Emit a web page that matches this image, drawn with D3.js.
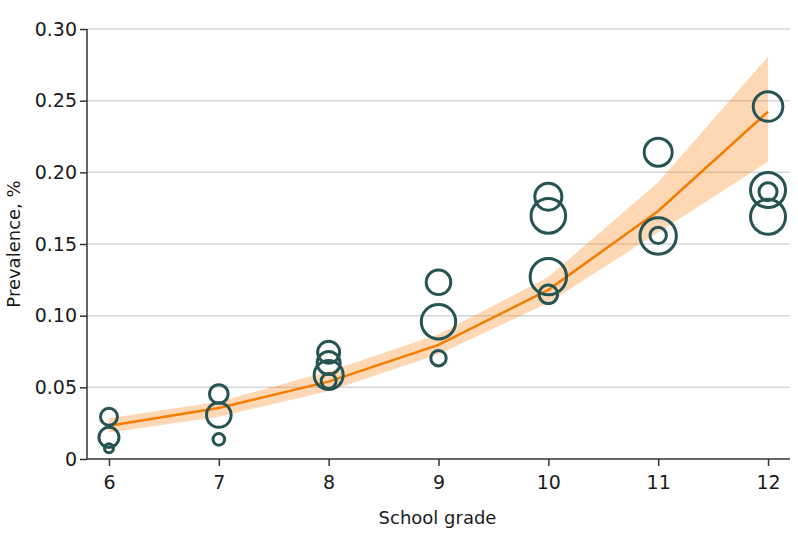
<!DOCTYPE html>
<html>
<head>
<meta charset="utf-8">
<script src="https://cdn.jsdelivr.net/npm/d3@7"></script>
<style>
  html, body { margin: 0; padding: 0; background: #fff; }
  svg { display: block; }
  text { font-family: "DejaVu Sans", sans-serif; fill: #1a1a1a; }
</style>
</head>
<body>
<svg id="chart" width="798" height="545"></svg>
<script>
// ---- Data ----
const grades = [6, 7, 8, 9, 10, 11, 12];
const fitPrevalence = [0.0232, 0.0356, 0.0540, 0.0796, 0.1180, 0.1730, 0.2424];
const fitLower      = [0.0185, 0.0295, 0.0475, 0.0730, 0.1090, 0.1580, 0.2075];
const fitUpper      = [0.0285, 0.0400, 0.0610, 0.0870, 0.1270, 0.1930, 0.2808];

const obsGrade      = [6, 6, 6, 7, 7, 7, 8, 8, 8, 8, 9, 9, 9, 10, 10, 10, 10, 11, 11, 11, 12, 12, 12, 12];
const obsPrevalence = [0.0295, 0.0151, 0.0075, 0.0454, 0.0307, 0.0137, 0.0745, 0.0670, 0.0586, 0.0544,
                       0.1233, 0.0958, 0.0703, 0.1830, 0.1696, 0.1272, 0.1149, 0.2140, 0.1556, 0.1560,
                       0.2459, 0.1877, 0.1865, 0.1690];
const obsSampleSize = [72, 100, 20, 86, 151, 34, 121, 132, 210, 56,
                       151, 296, 59, 182, 299, 331, 86, 196, 331, 67,
                       219, 306, 81, 306];

const yTicks = [0, 0.05, 0.10, 0.15, 0.20, 0.25, 0.30];
const xTicks = [6, 7, 8, 9, 10, 11, 12];
const xTitle = "School grade";
const yTitle = "Prevalence, %";

// ---- Layout ----
const svg = d3.select("#chart");
const mLeft = 87, mRight = 790, mTop = 29, mBottom = 459;

const x = d3.scaleLinear().domain([5.8, 12.2]).range([mLeft, mRight]);
const y = d3.scaleLinear().domain([0, 0.30]).range([mBottom, mTop]);
const r = d3.scaleSqrt().domain([0, 400]).range([0, 20]);

// gridlines
svg.append("g").selectAll("line")
  .data(yTicks.filter(d => d > 0))
  .join("line")
  .attr("x1", mLeft).attr("x2", mRight)
  .attr("y1", d => y(d)).attr("y2", d => y(d))
  .attr("stroke", "#d6d6d6").attr("stroke-width", 1.5);

// confidence band
const fit = grades.map((g, i) => ({ g, v: fitPrevalence[i], lo: fitLower[i], hi: fitUpper[i] }));
svg.append("path")
  .datum(fit)
  .attr("d", d3.area().x(d => x(d.g)).y0(d => y(d.lo)).y1(d => y(d.hi)))
  .attr("fill", "#fb8a1e").attr("fill-opacity", 0.33);

// fitted line
svg.append("path")
  .datum(fit)
  .attr("d", d3.line().x(d => x(d.g)).y(d => y(d.v)))
  .attr("fill", "none").attr("stroke", "#f57c00").attr("stroke-width", 2.5);

// observed circles
const obs = obsGrade.map((g, i) => ({ g, v: obsPrevalence[i], n: obsSampleSize[i] }));
svg.append("g").selectAll("circle")
  .data(obs)
  .join("circle")
  .attr("cx", d => x(d.g)).attr("cy", d => y(d.v)).attr("r", d => r(d.n))
  .attr("fill", "none").attr("stroke", "#255452").attr("stroke-width", 3);

// axes
const yAxis = svg.append("g").attr("transform", `translate(${mLeft},0)`)
  .call(d3.axisLeft(y).tickValues(yTicks).tickSize(7).tickPadding(3)
    .tickFormat(d => d === 0 ? "0" : d3.format(".2f")(d)));
const xAxis = svg.append("g").attr("transform", `translate(0,${mBottom})`)
  .call(d3.axisBottom(x).tickValues(xTicks).tickSize(7).tickPadding(10).tickFormat(d3.format("d")));
[yAxis, xAxis].forEach(a => {
  a.select(".domain").attr("stroke", "#333").attr("stroke-width", 1.5);
  a.selectAll(".tick line").attr("stroke", "#333").attr("stroke-width", 1.5);
  a.selectAll(".tick text").attr("font-size", 19).attr("fill", "#1a1a1a")
    .attr("font-family", '"DejaVu Sans", sans-serif');
});
yAxis.select(".domain").attr("d", `M0,${mTop}V${mBottom}`);
xAxis.select(".domain").attr("d", `M${mLeft},0H${mRight}`);

// titles
svg.append("text").attr("x", (mLeft + mRight) / 2 - 1).attr("y", 524)
  .attr("text-anchor", "middle").attr("font-size", 18).text(xTitle);
svg.append("text").attr("transform", `translate(20,${(mTop + mBottom) / 2}) rotate(-90)`)
  .attr("text-anchor", "middle").attr("font-size", 18).text(yTitle);
</script>
</body>
</html>
